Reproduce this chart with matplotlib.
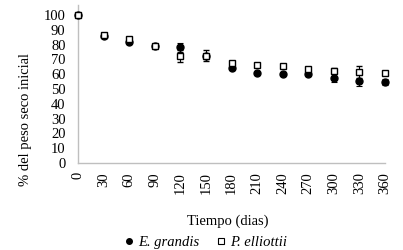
import matplotlib
matplotlib.use("Agg")
import matplotlib.pyplot as plt
from matplotlib.lines import Line2D

days = [0, 30, 60, 90, 120, 150, 180, 210, 240, 270, 300, 330, 360]
grandis = [100, 85.5, 82, 79, 78, 72.5, 64, 60.6, 60.3, 60, 57.5, 55.6, 55]
grandis_err = [0.8, 1, 1.5, 1, 3, 1, 1, 1, 1, 1, 2.5, 3.5, 2]
elliottii = [100, 86.5, 83.5, 79, 72.5, 72.5, 67.4, 66.2, 65.6, 63.3, 62.4, 61.2, 60.6]
elliottii_err = [0.8, 1, 1.5, 1, 4, 3.5, 1, 1, 1, 1, 1.5, 4, 1.5]
yticks = list(range(0, 101, 10))

plt.rcParams['font.family'] = ['Liberation Serif', 'DejaVu Serif']
fs = 10.5

fig = plt.figure(figsize=(4.03, 2.50), dpi=100)
W, H = 403, 250
left, right, bottom, top = 78, 385, 163, 5
ax = fig.add_axes([left / W, (H - bottom) / H, (right - left) / W, (bottom - top) / H])

ax.errorbar(days, grandis, yerr=grandis_err, fmt='o', color='black', ms=5,
            ecolor='black', elinewidth=0.8, capsize=2.5, capthick=0.8, zorder=3, clip_on=False)
ax.errorbar(days, elliottii, yerr=elliottii_err, fmt='s', mfc='white', mec='black', mew=1.0,
            ms=5, ecolor='black', elinewidth=0.8, capsize=2.5, capthick=0.8, zorder=4, clip_on=False)

ax.set_xlim(0, 360)
ax.set_ylim(0, 106.7)
ax.set_xticks(days)
ax.set_xticklabels([str(d) for d in days], rotation=90, fontsize=fs)
ax.set_yticks(yticks)
ax.set_yticklabels([str(v) for v in yticks], fontsize=fs)
ax.tick_params(axis='both', length=0)
ax.tick_params(axis='x', pad=6.5)
ax.tick_params(axis='y', pad=9)

for s in ['top', 'right']:
    ax.spines[s].set_visible(False)
for s in ['left', 'bottom']:
    ax.spines[s].set_color('#bfbfbf')
    ax.spines[s].set_linewidth(1.0)

ax.set_ylabel('% del peso seco inicial', fontsize=fs)
ax.yaxis.set_label_coords((32 - left) / (right - left), (bottom - 120) / (bottom - top))
ax.set_xlabel('Tiempo (dias)', fontsize=fs)
ax.xaxis.set_label_coords((228 - left) / (right - left), (bottom - 215) / (bottom - top))

handles = [Line2D([], [], marker='o', ls='none', color='black', ms=4),
           Line2D([], [], marker='s', ls='none', mfc='white', mec='black', mew=0.8, ms=4)]
leg = fig.legend(handles, ['E. grandis', 'P. elliottii'], loc='center',
                 bbox_to_anchor=(206 / W, 1 - 242 / H), ncol=2, frameon=False,
                 handlelength=0.6, handletextpad=0.3, columnspacing=1.2,
                 prop={'style': 'italic', 'size': fs})

fig.savefig('out.png', dpi=100)
